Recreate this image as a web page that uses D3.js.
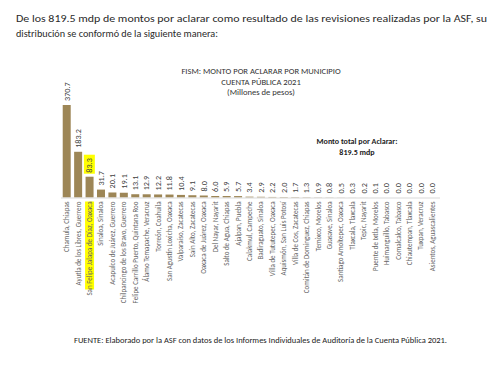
<!DOCTYPE html>
<html>
<head>
<meta charset="utf-8">
<script src="https://cdn.jsdelivr.net/npm/d3@7"></script>
<style>
  body { margin: 0; background: #fff; }
  svg { display: block; font-family: Carlito, "Liberation Sans Narrow", "Open Sans", sans-serif; }
</style>
</head>
<body>
<svg id="chart"></svg>
<script>
// municipios y montos por aclarar (millones de pesos)
const municipios = [
  "Chamula, Chiapas", "Ayutla de los Libres, Guerrero", "San Felipe Jalapa de Díaz, Oaxaca",
  "Sinaloa, Sinaloa", "Acapulco de Juárez, Guerrero", "Chilpancingo de los Bravo, Guerrero",
  "Felipe Carrillo Puerto, Quintana Roo", "Álamo Temapache, Veracruz", "Torreón, Coahuila",
  "San Agustín Loxicha, Oaxaca", "Valparaíso, Zacatecas", "Saín Alto, Zacatecas",
  "Oaxaca de Juárez, Oaxaca", "Del Nayar, Nayarit", "Salto de Agua, Chiapas", "Ajalpan, Puebla",
  "Calakmul, Campeche", "Badiraguato, Sinaloa", "Villa de Tututepec, Oaxaca",
  "Aquismón, San Luis Potosí", "Villa de Cos, Zacatecas", "Comitán de Domínguez, Chiapas",
  "Temixco, Morelos", "Guasave, Sinaloa", "Santiago Amoltepec, Oaxaca", "Tlaxcala, Tlaxcala",
  "Tepic, Nayarit", "Puente de Ixtla, Morelos", "Huimanguillo, Tabasco", "Comalcalco, Tabasco",
  "Chiautempan, Tlaxcala", "Tuxpan, Veracruz", "Asientos, Aguascalientes"
];
const montos = [
  370.7, 183.2, 83.3, 31.7, 20.1, 19.1, 13.1, 12.9, 12.2, 11.8, 10.4, 9.1, 8.0, 6.0, 5.9, 5.7,
  3.4, 2.9, 2.2, 2.0, 1.7, 1.3, 0.9, 0.8, 0.5, 0.3, 0.2, 0.1, 0.0, 0.0, 0.0, 0.0, 0.0
];
const resaltado = "San Felipe Jalapa de Díaz, Oaxaca";

const titulo = ["FISM: MONTO POR ACLARAR POR MUNICIPIO", "CUENTA PÚBLICA 2021", "(Millones de pesos)"];
const parrafo = [
  "De los 819.5 mdp de montos por aclarar como resultado de las revisiones realizadas por la ASF, su",
  "distribución se conformó de la siguiente manera:"
];
const totalTxt = ["Monto total por Aclarar:", "819.5 mdp"];
const fuente = "FUENTE: Elaborado por la ASF con datos de los Informes Individuales de Auditoría de la Cuenta Pública 2021.";

const width = 500, height = 368;
const margin = {left: 61, right: 62, base: 197.5};

const data = municipios.map((m, i) => ({m: m, v: montos[i]}));

const svg = d3.select("#chart")
    .attr("width", width)
    .attr("height", height);

// texto introductorio
svg.selectAll("text.parrafo")
    .data(parrafo)
  .join("text")
    .attr("class", "parrafo")
    .attr("x", 16)
    .attr("y", (d, i) => 22 + i * 15)
    .attr("font-size", 11)
    .attr("fill", "#2a2a2a")
    .attr("textLength", (d, i) => i === 0 ? 471 : 202)
    .attr("lengthAdjust", "spacingAndGlyphs")
    .text(d => d);

const x = d3.scaleBand()
    .domain(municipios)
    .range([margin.left, width - margin.right])
    .paddingInner(0.3)
    .paddingOuter(0.15);

const y = d3.scaleLinear()
    .domain([0, 370.7])
    .range([margin.base, 105]);

// titulo
svg.selectAll("text.titulo")
    .data(titulo)
  .join("text")
    .attr("class", "titulo")
    .attr("x", 261)
    .attr("y", (d, i) => 74 + i * 10.5)
    .attr("text-anchor", "middle")
    .attr("font-size", 8.6)
    .attr("fill", "#333")
    .text(d => d);

// barras
svg.selectAll("rect.bar")
    .data(data)
  .join("rect")
    .attr("class", "bar")
    .attr("x", d => x(d.m))
    .attr("y", d => y(d.v))
    .attr("width", x.bandwidth())
    .attr("height", d => y(0) - y(d.v))
    .attr("fill", "#9d8656");

// eje horizontal
svg.append("line")
    .attr("x1", x.range()[0])
    .attr("x2", x.range()[1] + 2)
    .attr("y1", y(0) + 0.5)
    .attr("y2", y(0) + 0.5)
    .attr("stroke", "#d9d9d9")
    .attr("stroke-width", 1);

// etiquetas de valor
const valores = svg.selectAll("g.valor")
    .data(data)
  .join("g")
    .attr("class", "valor")
    .attr("transform", d => `translate(${x(d.m) + x.bandwidth() / 2 + 2.8},${y(d.v) - 4}) rotate(-90)`);

valores.filter(d => d.m === resaltado)
  .append("rect")
    .attr("x", -1)
    .attr("y", -8.5)
    .attr("width", 19)
    .attr("height", 11)
    .attr("fill", "#ffff00");

valores.append("text")
    .attr("font-size", 8.2)
    .attr("fill", "#404040")
    .text(d => d.v.toFixed(1));

// etiquetas de categoria
const cats = svg.selectAll("g.cat")
    .data(data)
  .join("g")
    .attr("class", "cat")
    .attr("transform", d => `translate(${x(d.m) + x.bandwidth() / 2 + 2.5},${y(0) + 4}) rotate(-90)`);

cats.filter(d => d.m === resaltado)
  .append("rect")
    .attr("x", -88)
    .attr("y", -7)
    .attr("width", 88)
    .attr("height", 9)
    .attr("fill", "#ffff00");

cats.append("text")
    .attr("text-anchor", "end")
    .attr("font-size", 7)
    .attr("fill", "#666")
    .text(d => d.m);

// monto total
svg.selectAll("text.total")
    .data(totalTxt)
  .join("text")
    .attr("class", "total")
    .attr("x", 357)
    .attr("y", (d, i) => 144 + i * 11)
    .attr("text-anchor", "middle")
    .attr("font-size", 8)
    .attr("font-weight", "bold")
    .attr("fill", "#222")
    .text(d => d);

// fuente
svg.append("text")
    .attr("x", 74)
    .attr("y", 343)
    .attr("font-size", 7.6)
    .attr("fill", "#222")
    .attr("textLength", 373)
    .attr("lengthAdjust", "spacingAndGlyphs")
    .text(fuente);
</script>
</body>
</html>
